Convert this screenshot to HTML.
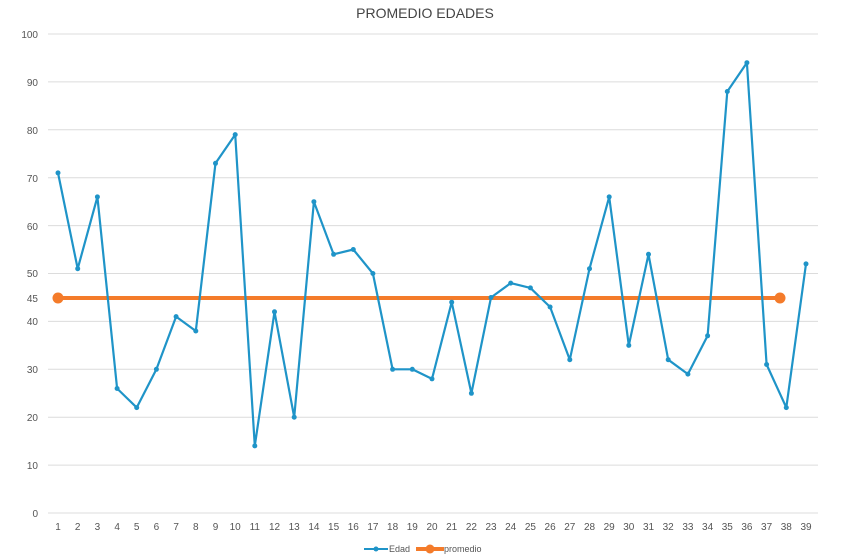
<!DOCTYPE html>
<html><head><meta charset="utf-8"><style>
body{margin:0;background:#fff;}
svg{display:block;font-family:"Liberation Sans",sans-serif;}
</style></head><body>
<svg width="850" height="560" viewBox="0 0 850 560">
<rect width="850" height="560" fill="#fff"/>
<text x="425" y="18" text-anchor="middle" font-size="14" fill="#444">PROMEDIO EDADES</text>
<g stroke="#dcdcdc" stroke-width="1">
<line x1="48" x2="818" y1="34" y2="34"/>
<line x1="48" x2="818" y1="81.9" y2="81.9"/>
<line x1="48" x2="818" y1="129.8" y2="129.8"/>
<line x1="48" x2="818" y1="177.7" y2="177.7"/>
<line x1="48" x2="818" y1="225.6" y2="225.6"/>
<line x1="48" x2="818" y1="273.5" y2="273.5"/>
<line x1="48" x2="818" y1="321.4" y2="321.4"/>
<line x1="48" x2="818" y1="369.3" y2="369.3"/>
<line x1="48" x2="818" y1="417.2" y2="417.2"/>
<line x1="48" x2="818" y1="465.1" y2="465.1"/>
<line x1="48" x2="818" y1="513" y2="513"/>
</g>
<g font-size="10" fill="#555" text-anchor="end">
<text x="38" y="38">100</text>
<text x="38" y="86">90</text>
<text x="38" y="134">80</text>
<text x="38" y="182">70</text>
<text x="38" y="230">60</text>
<text x="38" y="277">50</text>
<text x="38" y="302">45</text>
<text x="38" y="325">40</text>
<text x="38" y="373">30</text>
<text x="38" y="421">20</text>
<text x="38" y="469">10</text>
<text x="38" y="517">0</text>
</g>
<g font-size="10" fill="#555" text-anchor="middle">
<text x="58" y="530">1</text><text x="77.7" y="530">2</text><text x="97.4" y="530">3</text><text x="117.1" y="530">4</text><text x="136.7" y="530">5</text><text x="156.4" y="530">6</text><text x="176.1" y="530">7</text><text x="195.8" y="530">8</text><text x="215.5" y="530">9</text><text x="235.2" y="530">10</text><text x="254.8" y="530">11</text><text x="274.5" y="530">12</text><text x="294.2" y="530">13</text><text x="313.9" y="530">14</text><text x="333.6" y="530">15</text><text x="353.3" y="530">16</text><text x="372.9" y="530">17</text><text x="392.6" y="530">18</text><text x="412.3" y="530">19</text><text x="432" y="530">20</text><text x="451.7" y="530">21</text><text x="471.4" y="530">22</text><text x="491" y="530">23</text><text x="510.7" y="530">24</text><text x="530.4" y="530">25</text><text x="550.1" y="530">26</text><text x="569.8" y="530">27</text><text x="589.5" y="530">28</text><text x="609.2" y="530">29</text><text x="628.8" y="530">30</text><text x="648.5" y="530">31</text><text x="668.2" y="530">32</text><text x="687.9" y="530">33</text><text x="707.6" y="530">34</text><text x="727.3" y="530">35</text><text x="746.9" y="530">36</text><text x="766.6" y="530">37</text><text x="786.3" y="530">38</text><text x="806" y="530">39</text>
</g>
<line x1="58" x2="780" y1="298" y2="298" stroke="#f47b2a" stroke-width="4"/>
<circle cx="58" cy="298" r="5.5" fill="#f47b2a"/>
<circle cx="780" cy="298" r="5.5" fill="#f47b2a"/>
<polyline fill="none" stroke="#1f94c8" stroke-width="2.2" stroke-linejoin="round" points="58,172.9 77.7,268.7 97.4,196.9 117.1,388.5 136.7,407.6 156.4,369.3 176.1,316.6 195.8,331 215.5,163.3 235.2,134.6 254.8,445.9 274.5,311.8 294.2,417.2 313.9,201.7 333.6,254.3 353.3,249.5 372.9,273.5 392.6,369.3 412.3,369.3 432,378.9 451.7,302.2 471.4,393.3 491,297.5 510.7,283.1 530.4,287.9 550.1,307 569.8,359.7 589.5,268.7 609.2,196.9 628.8,345.4 648.5,254.3 668.2,359.7 687.9,374.1 707.6,335.8 727.3,91.5 746.9,62.7 766.6,364.5 786.3,407.6 806,263.9"/>
<g fill="#1f94c8">
<circle cx="58" cy="172.9" r="2.5"/><circle cx="77.7" cy="268.7" r="2.5"/><circle cx="97.4" cy="196.9" r="2.5"/><circle cx="117.1" cy="388.5" r="2.5"/><circle cx="136.7" cy="407.6" r="2.5"/><circle cx="156.4" cy="369.3" r="2.5"/><circle cx="176.1" cy="316.6" r="2.5"/><circle cx="195.8" cy="331" r="2.5"/><circle cx="215.5" cy="163.3" r="2.5"/><circle cx="235.2" cy="134.6" r="2.5"/><circle cx="254.8" cy="445.9" r="2.5"/><circle cx="274.5" cy="311.8" r="2.5"/><circle cx="294.2" cy="417.2" r="2.5"/><circle cx="313.9" cy="201.7" r="2.5"/><circle cx="333.6" cy="254.3" r="2.5"/><circle cx="353.3" cy="249.5" r="2.5"/><circle cx="372.9" cy="273.5" r="2.5"/><circle cx="392.6" cy="369.3" r="2.5"/><circle cx="412.3" cy="369.3" r="2.5"/><circle cx="432" cy="378.9" r="2.5"/><circle cx="451.7" cy="302.2" r="2.5"/><circle cx="471.4" cy="393.3" r="2.5"/><circle cx="491" cy="297.5" r="2.5"/><circle cx="510.7" cy="283.1" r="2.5"/><circle cx="530.4" cy="287.9" r="2.5"/><circle cx="550.1" cy="307" r="2.5"/><circle cx="569.8" cy="359.7" r="2.5"/><circle cx="589.5" cy="268.7" r="2.5"/><circle cx="609.2" cy="196.9" r="2.5"/><circle cx="628.8" cy="345.4" r="2.5"/><circle cx="648.5" cy="254.3" r="2.5"/><circle cx="668.2" cy="359.7" r="2.5"/><circle cx="687.9" cy="374.1" r="2.5"/><circle cx="707.6" cy="335.8" r="2.5"/><circle cx="727.3" cy="91.5" r="2.5"/><circle cx="746.9" cy="62.7" r="2.5"/><circle cx="766.6" cy="364.5" r="2.5"/><circle cx="786.3" cy="407.6" r="2.5"/><circle cx="806" cy="263.9" r="2.5"/>
</g>
<line x1="364" x2="388" y1="549" y2="549" stroke="#1f94c8" stroke-width="2"/>
<circle cx="376" cy="549" r="2.5" fill="#1f94c8"/>
<text x="389" y="552" font-size="9" fill="#555">Edad</text>
<line x1="416" x2="444" y1="549" y2="549" stroke="#f47b2a" stroke-width="4"/>
<circle cx="430" cy="549" r="4.5" fill="#f47b2a"/>
<text x="444" y="552" font-size="9" fill="#555">promedio</text>
</svg>
</body></html>
